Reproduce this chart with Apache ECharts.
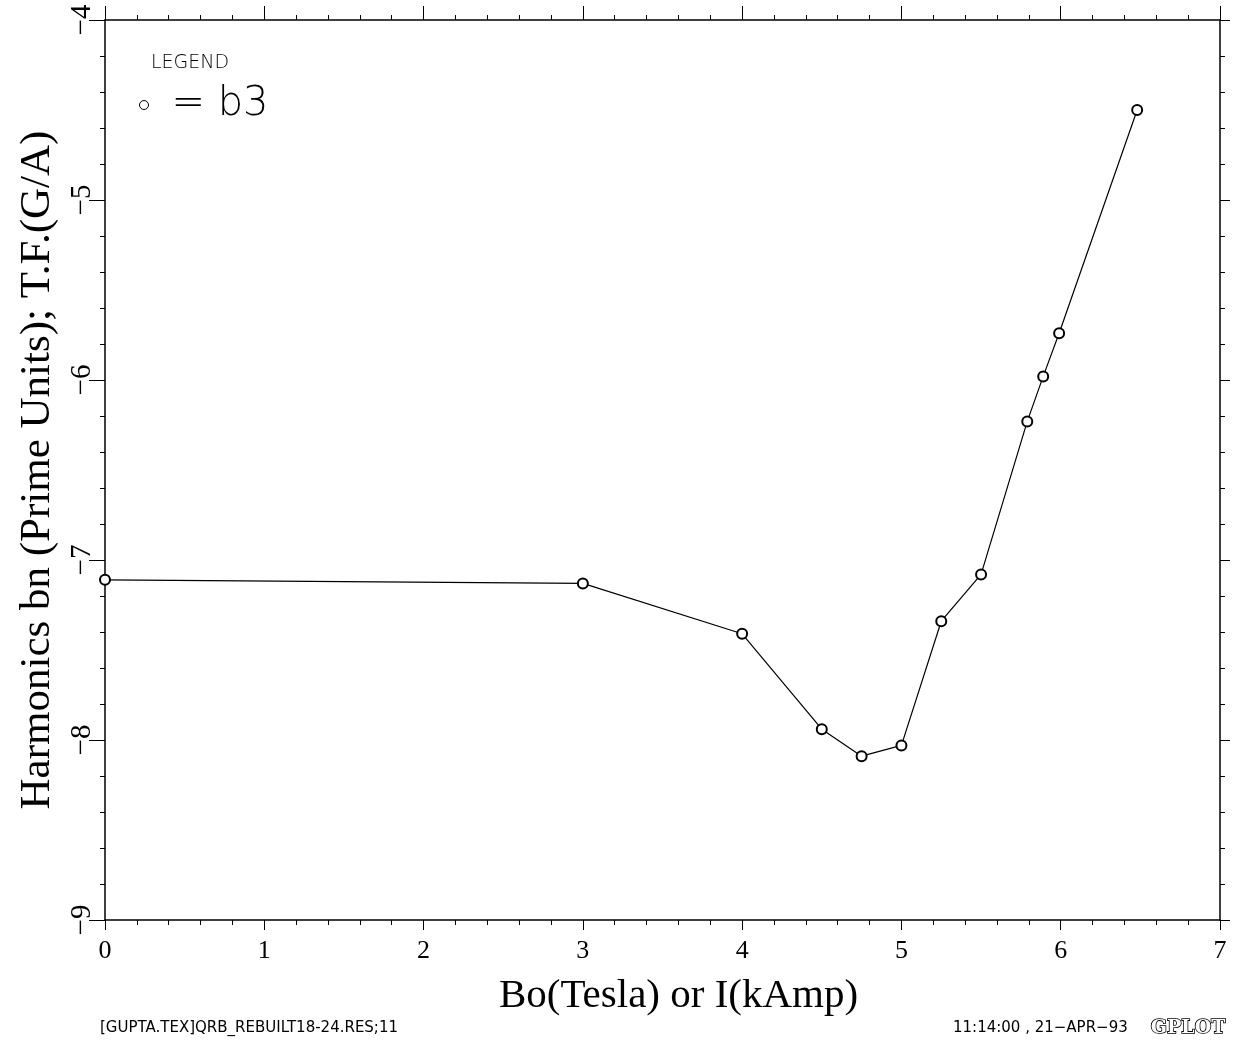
<!DOCTYPE html>
<html>
<head>
<meta charset="utf-8">
<script src="https://cdn.jsdelivr.net/npm/echarts@6/dist/echarts.min.js"></script>
<style>
  html, body { margin: 0; padding: 0; background: #fff; }
  #chart { width: 1238px; height: 1043px; }
</style>
</head>
<body>
<div id="chart"></div>
<script>
// Bo (Tesla) values and b3 harmonic
const fieldValues = [0, 3, 4, 4.5, 4.75, 5, 5.25, 5.5, 5.79, 5.89, 5.99, 6.48]
const b3Values = [-7.11, -7.13, -7.41, -7.94, -8.09, -8.03, -7.34, -7.08, -6.23, -5.98, -5.74, -4.5]

const xRange = [0, 7]
const yRange = [-9, -4]

const serif = '"Liberation Serif", "DejaVu Serif", serif'
const sans = '"DejaVu Sans", "Liberation Sans", sans-serif'
const fmtMinus = (v) => String(v).replace('-', '\u2212')

const chart = echarts.init(document.getElementById('chart'))

const frameAxis = {
  axisLine: { show: true, onZero: false, lineStyle: { color: '#000', width: 1.5 } },
  axisTick: { show: true, inside: false, length: 10, lineStyle: { color: '#000', width: 1 } },
  minorTick: { show: true, splitNumber: 5, length: 5, lineStyle: { color: '#000', width: 1 } },
  splitLine: { show: false },
  minorSplitLine: { show: false },
}

chart.setOption({
  backgroundColor: '#fff',
  animation: false,
  grid: { left: 105, right: 18, top: 20, bottom: 123, containLabel: false, outerBoundsMode: 'none' },
  legend: {
    left: 134,
    top: 80,
    icon: 'circle',
    itemWidth: 9,
    itemHeight: 9,
    formatter: (name) => '= ' + name,
    textStyle: { fontFamily: sans, fontSize: 40, fontWeight: 200, color: '#000', padding: [0, 0, 0, 18] },
    itemStyle: { color: '#fff', borderColor: '#000', borderWidth: 1 },
    data: ['b3'],
  },
  xAxis: [
    {
      ...frameAxis,
      type: 'value',
      min: xRange[0],
      max: xRange[1],
      interval: 1,
      position: 'bottom',
      name: 'Bo(Tesla) or I(kAmp)',
      nameLocation: 'middle',
      nameGap: 56,
      nameTextStyle: { fontFamily: serif, fontSize: 41, color: '#000', padding: [0, 0, 0, 32] },
      axisLabel: { fontFamily: serif, fontSize: 26, color: '#000', margin: 18 },
    },
    {
      ...frameAxis,
      type: 'value',
      min: xRange[0],
      max: xRange[1],
      interval: 1,
      position: 'top',
      axisTick: { ...frameAxis.axisTick, length: 14 },
      axisLabel: { show: false },
    },
  ],
  yAxis: [
    {
      ...frameAxis,
      type: 'value',
      min: yRange[0],
      max: yRange[1],
      interval: 1,
      position: 'left',
      name: 'Harmonics bn (Prime Units); T.F.(G/A)',
      nameLocation: 'middle',
      nameRotate: 90,
      nameGap: 46,
      nameTextStyle: { fontFamily: serif, fontSize: 43, color: '#000' },
      axisTick: { ...frameAxis.axisTick, length: 16 },
      axisLabel: { fontFamily: serif, fontSize: 29, color: '#000', rotate: 90, margin: 8, formatter: fmtMinus },
    },
    {
      ...frameAxis,
      type: 'value',
      min: yRange[0],
      max: yRange[1],
      interval: 1,
      position: 'right',
      axisLabel: { show: false },
    },
  ],
  series: [
    {
      name: 'b3',
      type: 'line',
      data: fieldValues.map((x, i) => [x, b3Values[i]]),
      symbol: 'emptyCircle',
      symbolSize: 10,
      lineStyle: { color: '#000', width: 1.2 },
      itemStyle: { color: '#000', borderColor: '#000', borderWidth: 1.2 },
    },
  ],
  graphic: [
    { type: 'text', left: 151, top: 54, style: { text: 'LEGEND', fontFamily: sans, fontSize: 19, fontWeight: 200, fill: '#000' } },
    { type: 'text', left: 100, top: 1021, style: { text: '[GUPTA.TEX]QRB_REBUILT18-24.RES;11', fontFamily: sans, fontSize: 15, fill: '#000' } },
    { type: 'text', left: 953, top: 1021, style: { text: '11:14:00 , 21\u2212APR\u221293', fontFamily: sans, fontSize: 15, fill: '#000' } },
    { type: 'text', left: 1150, top: 1018, style: { text: 'GPLOT', fontFamily: '"DejaVu Serif", serif', fontSize: 19, fontWeight: 'bold', fill: '#fff', stroke: '#000', lineWidth: 1.6 } },
  ],
})
</script>
</body>
</html>
